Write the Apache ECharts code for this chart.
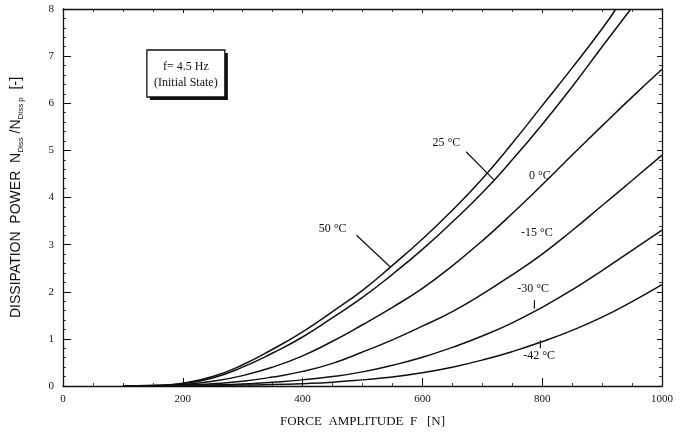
<!DOCTYPE html>
<html>
<head>
<meta charset="utf-8">
<script src="https://cdn.jsdelivr.net/npm/echarts@6/dist/echarts.min.js"></script>
<style>
html,body{margin:0;padding:0;background:#fff;}
#chart{width:688px;height:438px;}
</style>
</head>
<body>
<div id="chart"></div>
<script>
// ---- data ----
const forceN = [100, 150, 200, 250, 300, 350, 400, 450, 500, 550, 600, 650, 700, 750, 800, 850, 900, 950, 1000];
const seriesNames = ['50 °C', '25 °C', '0 °C', '-15 °C', '-30 °C', '-42 °C'];
const p50  = [0, 0.01, 0.06, 0.20, 0.45, 0.78, 1.15, 1.58, 2.03, 2.56, 3.12, 3.73, 4.40, 5.15, 5.95, 6.75, 7.58, null, null];
const p25  = [0, 0.01, 0.05, 0.17, 0.40, 0.70, 1.04, 1.45, 1.88, 2.37, 2.90, 3.48, 4.10, 4.80, 5.55, 6.35, 7.20, 8.05, null];
const p0   = [0, 0.00, 0.03, 0.10, 0.22, 0.40, 0.64, 0.95, 1.30, 1.67, 2.07, 2.55, 3.08, 3.66, 4.27, 4.90, 5.52, 6.13, 6.72];
const pm15 = [0, 0.00, 0.02, 0.05, 0.10, 0.19, 0.31, 0.48, 0.72, 0.98, 1.27, 1.58, 1.95, 2.36, 2.80, 3.30, 3.83, 4.36, 4.90];
const pm30 = [0, 0.00, 0.01, 0.02, 0.04, 0.08, 0.13, 0.20, 0.30, 0.44, 0.61, 0.82, 1.06, 1.34, 1.67, 2.04, 2.45, 2.88, 3.31];
const pm42 = [0, 0.00, 0.00, 0.01, 0.02, 0.03, 0.05, 0.08, 0.13, 0.19, 0.28, 0.40, 0.55, 0.73, 0.94, 1.18, 1.46, 1.79, 2.15];
// where the two hottest curves leave the top of the frame
const topCross = { '50 °C': [923, 8], '25 °C': [948, 8] };

const xTicks = ['0', '200', '400', '600', '800', '1000'];
const yTicks = ['0', '1', '2', '3', '4', '5', '6', '7', '8'];

// curve annotations, in data coordinates [F, value]
const annotations = [
  { text: '50 °C', at: [450, 3.33], leader: [[490, 3.20], [546, 2.53]] },
  { text: '25 °C', at: [640, 5.16], leader: [[673, 4.97], [719, 4.38]] },
  { text: '0 °C', at: [796, 4.46] },
  { text: '-15 °C', at: [791, 3.25] },
  { text: '-30 °C', at: [785, 2.06], leader: [[787, 1.82], [787, 1.64]] },
  { text: '-42 °C', at: [795, 0.64], leader: [[797, 0.80], [797, 0.97]] }
];
const infoLines = ['f= 4.5 Hz', '(Initial State)'];

// ---- build ----
const allSeries = [p50, p25, p0, pm15, pm30, pm42];
function pairs(name, vals) {
  const out = [];
  vals.forEach((v, i) => { if (v !== null && v <= 8) out.push([forceN[i], v]); });
  if (topCross[name]) out.push(topCross[name]);
  return out;
}

const serif = '"Liberation Serif", "DejaVu Serif", serif';
const sans = '"Liberation Sans", "DejaVu Sans", sans-serif';
const ink = '#111';

const chart = echarts.init(document.getElementById('chart'), null, { renderer: 'canvas' });

const axisCommon = {
  axisLine: { show: true, onZero: false, lineStyle: { color: ink, width: 1.3 } },
  splitLine: { show: false },
  axisTick: { show: true, inside: true, length: 8, lineStyle: { color: ink, width: 1 } },
  minorTick: { show: true, length: 3, lineStyle: { color: ink, width: 0.8 } }
};

chart.setOption({
  animation: false,
  backgroundColor: '#fff',
  grid: { left: 63, right: 26, top: 9, bottom: 52, containLabel: false },
  xAxis: [
    Object.assign({}, axisCommon, {
      type: 'value', min: 0, max: 1000, interval: 200, position: 'bottom',
      minorTick: Object.assign({}, axisCommon.minorTick, { splitNumber: 4 }),
      axisLabel: { show: true, color: ink, fontFamily: serif, fontSize: 11, margin: 8,
        formatter: (v) => xTicks[Math.round(v / 200)] },
      name: 'FORCE  AMPLITUDE  F   [N]', nameLocation: 'middle', nameGap: 29,
      nameTextStyle: { color: ink, fontFamily: serif, fontSize: 13 }
    }),
    Object.assign({}, axisCommon, {
      type: 'value', min: 0, max: 1000, interval: 200, position: 'top',
      minorTick: Object.assign({}, axisCommon.minorTick, { splitNumber: 4 }),
      axisTick: Object.assign({}, axisCommon.axisTick, { length: 4 }),
      axisLabel: { show: false }
    })
  ],
  yAxis: [
    Object.assign({}, axisCommon, {
      type: 'value', min: 0, max: 8, interval: 1, position: 'left',
      minorTick: Object.assign({}, axisCommon.minorTick, { splitNumber: 5 }),
      axisLabel: { show: true, color: ink, fontFamily: serif, fontSize: 11, margin: 9,
        formatter: (v) => yTicks[Math.round(v)] },
      name: '{a|DISSIPATION  POWER  N}{s|Diss}{a| /N}{s|Diss p}{a|  [-]}',
      nameLocation: 'middle', nameGap: 38, nameRotate: 90,
      nameTextStyle: {
        color: ink, fontFamily: sans, fontSize: 14,
        rich: {
          a: { color: ink, fontFamily: sans, fontSize: 14, lineHeight: 18, verticalAlign: 'middle' },
          s: { color: ink, fontFamily: sans, fontSize: 8, lineHeight: 18, verticalAlign: 'bottom' }
        }
      }
    }),
    Object.assign({}, axisCommon, {
      type: 'value', min: 0, max: 8, interval: 1, position: 'right',
      minorTick: Object.assign({}, axisCommon.minorTick, { splitNumber: 5 }),
      axisTick: Object.assign({}, axisCommon.axisTick, { length: 5 }),
      axisLabel: { show: false }
    })
  ],
  series: seriesNames.map((n, i) => ({
    name: n, type: 'line', xAxisIndex: 0, yAxisIndex: 0,
    data: pairs(n, allSeries[i]),
    smooth: 0.5, showSymbol: false, symbol: 'none', clip: true,
    lineStyle: { color: ink, width: 1.5 },
    z: 3
  }))
});

// annotations positioned from data coordinates
const toPx = (p) => chart.convertToPixel({ xAxisIndex: 0, yAxisIndex: 0 }, p);
const graphics = [];
annotations.forEach((a) => {
  const c = toPx(a.at);
  graphics.push({
    type: 'text', x: c[0], y: c[1], z: 10,
    style: { text: a.text, fill: ink, font: '12px ' + serif, align: 'center', verticalAlign: 'middle' }
  });
  if (a.leader) {
    const p1 = toPx(a.leader[0]), p2 = toPx(a.leader[1]);
    graphics.push({
      type: 'line', z: 10,
      shape: { x1: p1[0], y1: p1[1], x2: p2[0], y2: p2[1] },
      style: { stroke: ink, lineWidth: 1.2 }
    });
  }
});

// info box (f = 4.5 Hz, initial state) with drop shadow
const boxTL = toPx([140, 7.13]);
const boxW = 78, boxH = 47;
graphics.push({
  type: 'rect', z: 9,
  shape: { x: boxTL[0] + 3, y: boxTL[1] + 3, width: boxW, height: boxH },
  style: { fill: ink }
});
graphics.push({
  type: 'rect', z: 10,
  shape: { x: boxTL[0], y: boxTL[1], width: boxW, height: boxH },
  style: { fill: '#fff', stroke: ink, lineWidth: 1.3 }
});
infoLines.forEach((t, i) => {
  graphics.push({
    type: 'text', z: 11, x: boxTL[0] + boxW / 2, y: boxTL[1] + 17 + i * 16,
    style: { text: t, fill: ink, font: '12px ' + serif,
      align: 'center', verticalAlign: 'middle' }
  });
});

chart.setOption({ graphic: graphics });
</script>
</body>
</html>
